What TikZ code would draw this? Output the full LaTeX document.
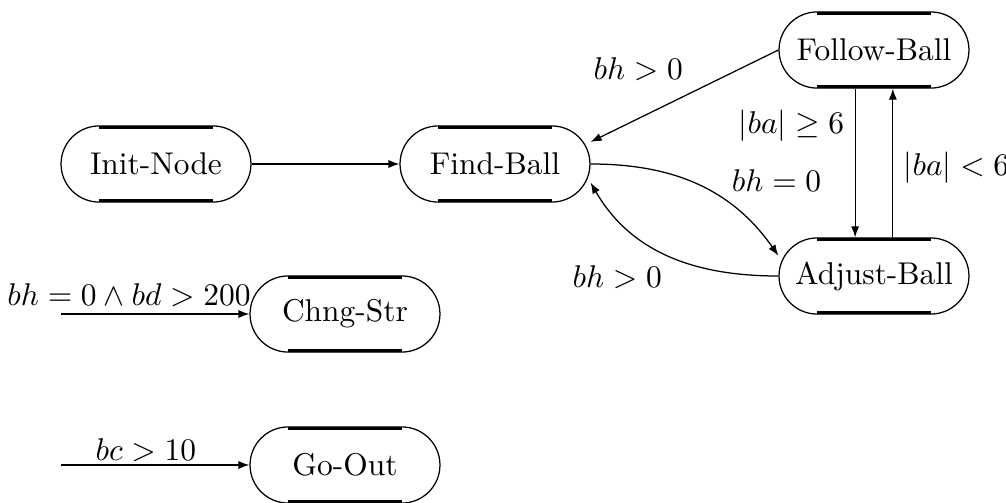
\documentclass[tikz,border=0pt]{standalone}
\usepackage{amsmath,amssymb}
\usetikzlibrary{arrows.meta}

\begin{document}
\begin{tikzpicture}[x=0.318pt, y=0.318pt, thin, >={Latex[length=3.5pt,width=2.6pt]},
    state/.style={draw, rectangle, rounded corners=12.1pt, minimum width=60.4pt, minimum height=24.2pt,
        inner sep=0pt,
        path picture={
            \draw[line width=2pt] ([xshift=12pt]path picture bounding box.north west) -- ([xshift=-12pt]path picture bounding box.north east);
            \draw[line width=2pt] ([xshift=12pt]path picture bounding box.south west) -- ([xshift=-12pt]path picture bounding box.south east);
        }}]
    \useasboundingbox (0,0) rectangle (1006,502);

    % states
    \node[state] (init) at (156,338) {Init-Node};
    \node[state] (find) at (495,338) {Find-Ball};
    \node[state] (follow) at (874,452) {Follow-Ball};
    \node[state] (adjust) at (874,226) {Adjust-Ball};
    \node[state] (chng) at (345,188) {Chng-Str};
    \node[state] (goout) at (345,37) {Go-Out};

    % transitions
    \draw[->] (init) -- (find);
    \draw[->] (follow.west) -- node[above left, pos=0.45] {$bh > 0$} (find.13);
    \draw[->] (find.east) to[out=0, in=125] node[above right, pos=0.63, yshift=-1.5pt] {$bh = 0$} (adjust.168);
    \draw[->] (adjust.west) to[out=180, in=-60] node[below left, pos=0.48, yshift=1pt] {$bh > 0$} (find.-11);
    \draw[->] ([xshift=-6pt]follow.south) -- node[left, pos=0.25] {$|ba| \geq 6$} ([xshift=-6pt]adjust.north);
    \draw[->] ([xshift=6pt]adjust.north) -- node[right, pos=0.47] {$|ba| < 6$} ([xshift=6pt]follow.south);

    % global transitions
    \coordinate (chngin) at (61,188);
    \coordinate (gooutin) at (61,37);
    \draw[->] (chngin) -- node[above left, pos=1, inner sep=0pt, xshift=0.6pt, yshift=2pt] {$bh = 0 \wedge bd > 200$} (chng);
    \draw[->] (gooutin) -- node[above, pos=0.45, inner sep=1pt] {$bc > 10$} (goout);
\end{tikzpicture}
\end{document}
